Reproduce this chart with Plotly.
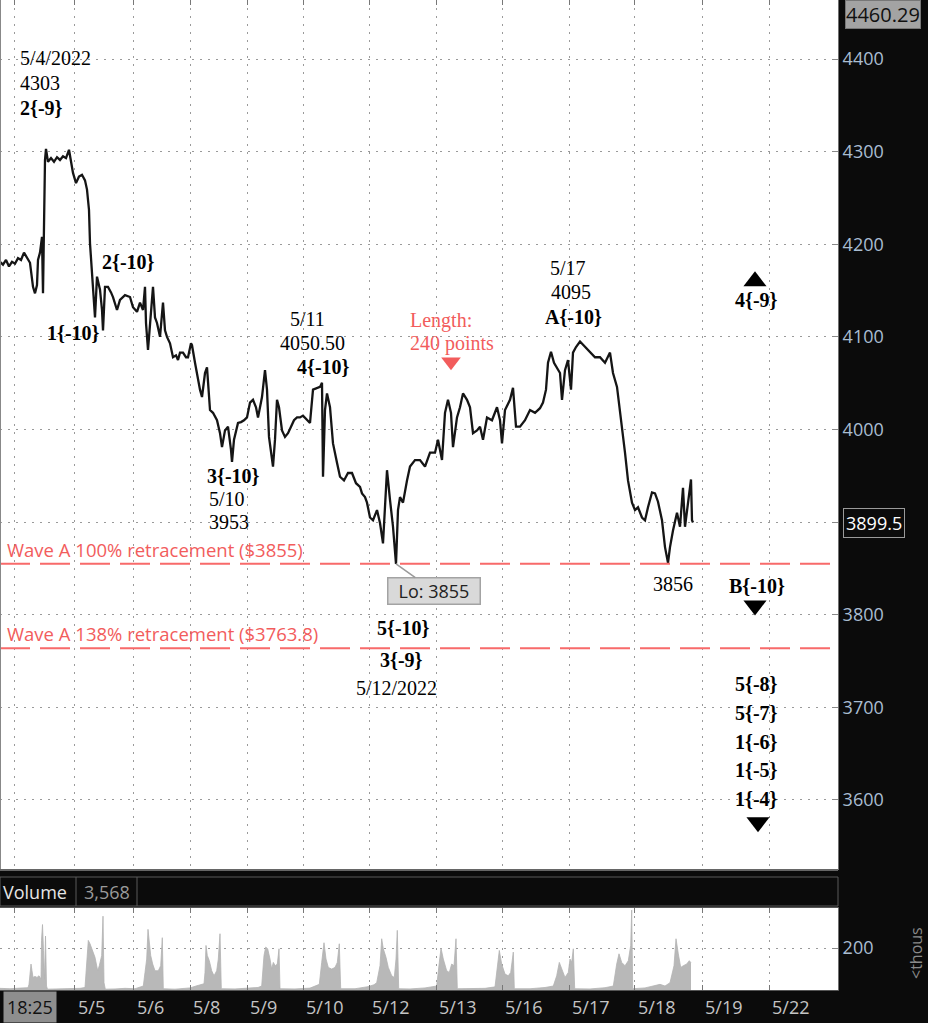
import plotly.graph_objects as go

# ---------------- data ----------------
price_bar = [0,3,6,9,12,15,18,21,24,27,30,33,35,37,38,40,42,43,44,45,46,48,51,54,57,60,63,66,69,71,73,76,79,82,85,87,89,90,92,94,95,97,100,102,103,105,108,111,113,117,120,125,130,133,137,140,143,145,146,148,150,153,155,157,160,163,165,167,170,173,176,178,180,183,186,188,191,192,195,198,200,202,205,207,210,213,217,220,222,225,228,231,232,234,238,241,244,247,250,253,256,258,262,265,267,269,272,273,275,277,279,282,285,288,291,294,297,300,303,306,310,313,317,320,322,323,325,327,330,333,337,340,344,348,352,356,360,362,365,367,370,373,377,380,383,385,387,390,393,396,398,400,403,407,410,415,420,425,430,435,438,442,445,448,451,453,457,460,463,467,470,473,477,480,483,487,492,497,500,502,505,510,513,516,520,525,530,535,540,543,546,548,551,554,557,560,562,565,568,571,573,576,580,585,590,595,600,605,610,613,617,620,622,625,628,632,635,638,642,645,648,652,655,658,662,665,668,670,673,677,680,683,685,688,691,692,693]
price_val = [4181,4178,4183,4176,4181,4179,4185,4183,4191,4185,4180,4154,4147,4156,4183,4191,4208,4147,4248,4291,4303,4289,4293,4289,4294,4291,4295,4293,4302,4291,4277,4266,4273,4275,4269,4259,4237,4201,4169,4137,4121,4165,4151,4129,4107,4154,4154,4148,4143,4129,4140,4145,4143,4132,4127,4137,4129,4154,4115,4086,4118,4154,4121,4115,4100,4137,4107,4100,4093,4078,4080,4075,4083,4083,4078,4078,4093,4091,4072,4053,4043,4035,4061,4067,4021,4018,4010,3996,3981,3999,4003,3978,3965,3989,4007,4008,4010,4013,4029,4032,4024,4013,4035,4064,4043,3992,3967,3960,3989,4032,4024,3999,3992,3996,4003,4010,4013,4013,4015,4012,4007,4043,4045,4046,4050.5,3949,4021,4039,4024,3985,3964,3949,3945,3953,3953,3942,3938,3931,3927,3921,3905,3902,3913,3899,3877,3924,3956,3924,3895,3855,3913,3927,3921,3945,3960,3967,3967,3960,3975,3975,3989,3967,4018,4032,4018,3981,4013,4024,4039,4032,4024,3996,3999,4003,3989,4013,4010,4024,4010,3985,4021,4032,4045,4003,4003,4010,4021,4018,4023,4029,4043,4072,4084,4072,4067,4061,4032,4064,4075,4043,4083,4089,4095,4089,4083,4078,4078,4072,4083,4061,4046,4021,4003,3975,3945,3921,3913,3916,3905,3902,3916,3932,3931,3922,3902,3873,3856,3873,3891,3910,3895,3937,3895,3924,3946,3902,3899.5]

vol_bar = [0,10,20,27,28,29,30,31,32,33,35,37,39,41,41.5,42.5,43.5,44.5,45.5,46.5,47.5,55,65,72,80,85,
           86,87.3,88.3,90,91.7,95,97.7,99.3,101.7,103,104,105.3,115,125,135,142,
           143.3,145,146.7,148,149.3,150.7,152.7,155,158.3,160.7,162.3,163.3,175,190,196,201.7,204,
           205,206,207.3,209.3,211.7,214,216.7,218.3,220,221.3,235,248,258,261.7,
           264,265.7,267.7,270,271.7,273.3,275.3,277.3,279,280,295,310,317,319.3,
           321.7,324,326,328.3,331.7,335,337.3,339.3,340.7,355,368,374,376.7,
           380,381.7,383.3,386,388.3,391.7,394.3,396,397.3,398.7,410,425,436.7,
           439.3,441,443.3,446.7,449.3,451.7,454,456,457.3,470,485,495,
           497.3,499.3,501.7,505,508.3,510.7,513.3,514.3,530,545,553.3,
           556.7,559.3,561.7,565,568.3,570,571.7,573.3,574.7,590,605,613.3,
           616.7,619,621.7,625,628.3,630.7,631.7,632.7,645,660,665,670,
           674,676,678.3,680.7,683.3,686.7,689.3,691]
vol_val = [8,6,9,8,11,27,68,124,92,60,65,60,68,52,237,313,189,52,258,19,4,5,7,6,8,12,
           84,132,237,221,197,156,92,116,165,353,35,4,5,8,6,15,
           19,84,148,290,213,165,124,92,92,116,250,6,4,10,19,27,30,
           84,213,165,140,92,68,92,148,269,6,5,8,12,19,
           165,205,197,148,100,132,116,124,197,6,5,9,20,27,
           132,226,148,108,100,108,132,221,6,6,16,25,35,
           116,245,197,156,108,68,60,148,285,6,5,10,19,
           132,200,148,92,84,124,116,245,6,6,8,15,
           124,189,124,76,68,84,181,6,6,12,19,
           68,132,100,60,84,148,132,197,6,5,11,19,
           124,173,132,116,140,213,382,6,10,27,19,35,
           116,245,173,108,116,124,140,130]

price_ticks = [3600, 3700, 3800, 3900, 4000, 4100, 4200, 4300, 4400]
vol_ticks = [200]
day_tick_bar = [14.2, 74.6, 133.7, 190, 247.3, 303, 369.2, 436.1, 502.4, 569.2, 634.9, 702.4, 769.2]
day_tick_text = ["18:25", "5/5", "5/6", "5/8", "5/9", "5/10", "5/12", "5/13", "5/16", "5/17", "5/18", "5/19", "5/22"]
last_price = 3899.5
top_price_text = "4460.29"
volume_text = "3,568"
retr_levels = [3855, 3763.8]
retr_text = ["Wave A 100% retracement ($3855)", "Wave A 138% retracement ($3763.8)"]
low_point = (396, 3855)

# wave labels: (text, bar, price, bold)
wave_labels = [
    ("5/4/2022", 18, 4401, False), ("4303", 18, 4374, False), ("2{-9}", 18, 4347, True),
    ("2{-10}", 100, 4181, True), ("1{-10}", 45, 4104, True),
    ("5/11", 288, 4119, False), ("4050.50", 278, 4093, False), ("4{-10}", 295, 4067, True),
    ("3{-10}", 205, 3950, True), ("5/10", 207, 3925, False), ("3953", 207, 3900, False),
    ("5/17", 548, 4174, False), ("4095", 549, 4148.5, False), ("A{-10}", 543, 4121.5, True),
    ("4{-9}", 733, 4140, True), ("3856", 651, 3833, False), ("B{-10}", 727, 3831, True),
    ("5{-10}", 375, 3786, True), ("3{-9}", 378, 3751, True), ("5/12/2022", 354, 3721, False),
    ("5{-8}", 733, 3725, True), ("5{-7}", 733, 3694, True), ("1{-6}", 733, 3663, True),
    ("1{-5}", 733, 3632, True), ("1{-4}", 733, 3601, True),
]
length_text = ["Length:", "240 points"]
length_pos = [(408, 4118), (408, 4093)]
# triangles: (bar, price, direction, colour)
triangles = [(451, 4073, "down", "#f25c5c"), (755, 4160, "up", "black"),
             (755, 3810, "down", "black"), (758, 3576, "down", "black")]

# ---------------- figure ----------------
W, H = 928, 1023
PLOT_R = 838 / W
main_dom = [1 - 870 / H, 1]
vol_dom = [1 - 990 / H, 1 - 908 / H]
SANS = "Open Sans"

fig = go.Figure()
fig.add_trace(go.Scatter(x=vol_bar, y=vol_val, xaxis="x2", yaxis="y2", mode="lines",
                         line=dict(color="#b3b3b3", width=0.8), fill="tozeroy",
                         fillcolor="#b8b8b8", hoverinfo="skip"))
fig.add_trace(go.Scatter(x=price_bar, y=price_val, mode="lines",
                         line=dict(color="#151515", width=2.3), hoverinfo="skip"))

for (bx, py, d, c) in triangles:
    big = c == "black"
    fig.add_trace(go.Scatter(x=[bx], y=[py], mode="markers",
                             marker=dict(symbol="triangle-" + d, size=20 if big else 17, color=c,
                                         line=dict(width=0)), hoverinfo="skip"))

grid = dict(gridcolor="#9a9a9a", griddash="2px,6px", gridwidth=1)
price_ticktext = ["" if v == 3900 else str(v) for v in price_ticks]
fig.update_layout(
    width=W, height=H, margin=dict(l=0, r=0, t=0, b=0),
    paper_bgcolor="#0b0b0b", plot_bgcolor="white", showlegend=False,
    xaxis=dict(domain=[0, PLOT_R], range=[0, 838], side="top", tickvals=day_tick_bar,
               ticks="inside", ticklen=5, tickcolor="#777", showticklabels=False,
               showgrid=True, zeroline=False, **grid),
    yaxis=dict(domain=main_dom, range=[3524.4, 4463.7], side="right", tickvals=price_ticks,
               ticktext=price_ticktext,
               ticks="inside", ticklen=6, tickcolor="#888", showline=True, linecolor="#707070",
               tickfont=dict(family=SANS, size=18, color="#a9bdd2"), zeroline=False,
               showgrid=True, **grid),
    xaxis2=dict(domain=[0, PLOT_R], range=[0, 838], anchor="y2", matches="x", tickvals=day_tick_bar,
                ticks="inside", ticklen=5, tickcolor="#777", mirror="ticks", showline=True,
                linecolor="#555", showticklabels=False, showgrid=True, zeroline=False, **grid),
    yaxis2=dict(domain=vol_dom, range=[0, 392], side="right", anchor="x2", tickvals=vol_ticks,
                ticks="inside", ticklen=6, tickcolor="#888", showline=True, linecolor="#707070",
                tickfont=dict(family=SANS, size=18, color="#a9bdd2"), zeroline=False,
                showgrid=True, **grid),
)

shapes = []
for lvl in retr_levels:
    shapes.append(dict(type="line", xref="x domain", yref="y", x0=0, x1=1, y0=lvl, y1=lvl,
                       line=dict(color="#f86a6a", width=2, dash="30px,10px")))
shapes.append(dict(type="line", xref="paper", yref="paper", x0=0.5 / W, x1=0.5 / W,
                   y0=main_dom[0], y1=1, line=dict(color="#888", width=1)))
shapes.append(dict(type="line", xref="paper", yref="paper", x0=0, x1=PLOT_R,
                   y0=main_dom[0], y1=main_dom[0], line=dict(color="#666", width=2)))
shapes.append(dict(type="rect", xref="paper", yref="paper", x0=0, x1=PLOT_R,
                   y0=1 - 906 / H, y1=1 - 877 / H, line=dict(color="#5a5a5a", width=1)))
for dx in (76, 137):
    shapes.append(dict(type="line", xref="paper", yref="paper", x0=dx / W, x1=dx / W,
                       y0=1 - 906 / H, y1=1 - 877 / H, line=dict(color="#5a5a5a", width=1)))
fig.update_layout(shapes=shapes)

ann = []
serif = "Liberation Serif, Times New Roman, serif"
for (t, bx, py, b) in wave_labels:
    ann.append(dict(x=bx, y=py, xref="x", yref="y", text=f"<b>{t}</b>" if b else t,
                    showarrow=False, xanchor="left", yanchor="middle",
                    font=dict(family=serif, size=20, color="black")))
for t, (bx, py) in zip(length_text, length_pos):
    ann.append(dict(x=bx, y=py, xref="x", yref="y", text=t, showarrow=False,
                    xanchor="left", yanchor="middle",
                    font=dict(family=serif, size=20, color="#f25c5c")))
for lvl, t in zip(retr_levels, retr_text):
    ann.append(dict(x=5, y=lvl, xref="x", yref="y", text=t, showarrow=False,
                    xanchor="left", yanchor="bottom", yshift=0,
                    font=dict(family=SANS, size=18.5, color="#f25c5c")))
ann.append(dict(x=low_point[0], y=low_point[1], xref="x", yref="y", text="Lo: 3855",
                showarrow=True, arrowhead=0, arrowwidth=1.5, arrowcolor="#9a9a9a",
                ax=38, ay=27, width=89, height=23, bgcolor="#d9d9d9", bordercolor="#a3a3a3",
                borderwidth=1.5, font=dict(family=SANS, size=18, color="#222")))
ann.append(dict(x=883 / W, y=1, xref="paper", yref="paper", text=top_price_text,
                showarrow=False, xanchor="center", yanchor="top", bgcolor="#a3a3a3",
                bordercolor="#777", borderwidth=1, borderpad=0,
                font=dict(family=SANS, size=20, color="#111")))
ann.append(dict(x=843 / W, y=last_price, xref="paper", yref="y", text=str(last_price),
                showarrow=False, xanchor="left", yanchor="middle", bgcolor="#0b0b0b",
                bordercolor="#9a9a9a", borderwidth=1, borderpad=2,
                font=dict(family=SANS, size=18, color="white")))
ann.append(dict(x=1 / W, y=1 - 892 / H, xref="paper", yref="paper", text="Volume",
                showarrow=False, xanchor="left", yanchor="middle",
                font=dict(family=SANS, size=18, color="#e6e6e6")))
ann.append(dict(x=82 / W, y=1 - 892 / H, xref="paper", yref="paper", text=volume_text,
                showarrow=False, xanchor="left", yanchor="middle",
                font=dict(family=SANS, size=18, color="#9a9a9a")))
ann.append(dict(x=916 / W, y=1 - 953 / H, xref="paper", yref="paper", text="&lt;thous",
                showarrow=False, textangle=-90, xanchor="center", yanchor="middle",
                font=dict(family=SANS, size=16, color="#8a8a8a")))
ann.append(dict(x=3 / W, y=1 - 1007 / H, xref="paper", yref="paper", text=day_tick_text[0],
                showarrow=False, xanchor="left", yanchor="middle", bgcolor="#8e8e8e", borderpad=3,
                font=dict(family=SANS, size=18, color="#111")))
for bx, t in zip(day_tick_bar[1:], day_tick_text[1:]):
    ann.append(dict(x=bx + 1, y=1 - 1007 / H, xref="x2", yref="paper", text=t, showarrow=False,
                    xanchor="left", yanchor="middle",
                    font=dict(family=SANS, size=18, color="#c4c4c4")))
fig.update_layout(annotations=ann)

fig.write_html("out.html", config={"displayModeBar": False},
               post_script="document.body.style.margin='0';document.body.style.overflow='hidden';")
